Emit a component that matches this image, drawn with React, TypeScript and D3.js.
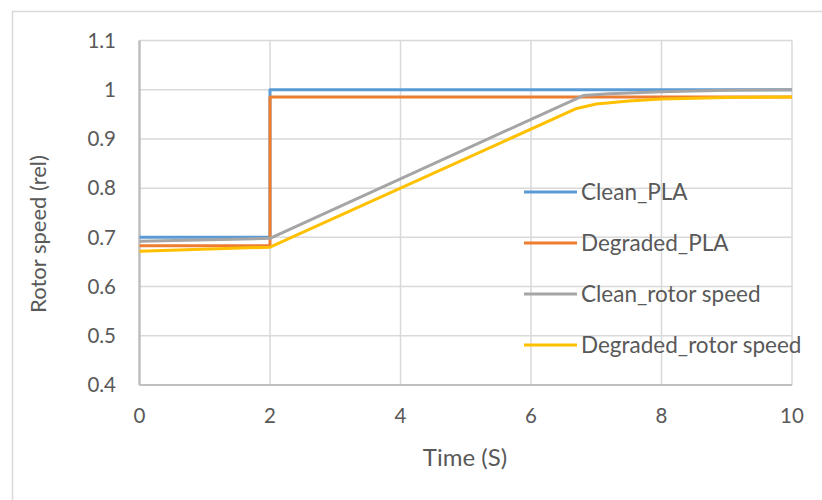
import React from "react";
import * as d3 from "d3";

const seriesNames = ["Clean_PLA", "Degraded_PLA", "Clean_rotor speed", "Degraded_rotor speed"];
const seriesColors = ["#5b9bd5", "#ed7d31", "#a5a5a5", "#ffc000"];

const cleanPLA_t = [0, 2, 2, 10];
const cleanPLA_v = [0.7, 0.7, 1.0, 1.0];
const degradedPLA_t = [0, 2, 2, 10];
const degradedPLA_v = [0.683, 0.683, 0.985, 0.985];
const cleanRotor_t = [0, 2, 6.8, 7.2, 8, 9, 10];
const cleanRotor_v = [0.692, 0.698, 0.988, 0.992, 0.996, 0.999, 1.0];
const degradedRotor_t = [0, 2, 6.7, 7, 7.5, 8, 9, 10];
const degradedRotor_v = [0.672, 0.68, 0.962, 0.971, 0.977, 0.981, 0.984, 0.985];

const xTicks = [0, 2, 4, 6, 8, 10];
const yTicks = [0.4, 0.5, 0.6, 0.7, 0.8, 0.9, 1, 1.1];

const W = 822;
const H = 500;
const FONT = "Lato, 'Open Sans', sans-serif";

export default function App() {
  const x = d3.scaleLinear().domain([0, 10]).range([139.5, 792]);
  const y = d3.scaleLinear().domain([0.4, 1.1]).range([385, 40.5]);
  const line = d3
    .line<[number, number]>()
    .x((d) => x(d[0]))
    .y((d) => y(d[1]));

  const series: [number[], number[]][] = [
    [cleanPLA_t, cleanPLA_v],
    [degradedPLA_t, degradedPLA_v],
    [cleanRotor_t, cleanRotor_v],
    [degradedRotor_t, degradedRotor_v],
  ];

  const legendY0 = 192;
  const legendStep = 51;

  return (
    <svg
      width={W}
      height={H}
      style={{ position: "absolute", left: 0, top: 0, background: "#fff" }}
      fontFamily={FONT}
    >
      <rect x={0} y={0} width={W} height={H} fill="#fff" />
      <rect x={12.5} y={11.5} width={W + 20} height={H + 20} fill="none" stroke="#d9d9d9" strokeWidth={1.5} />
      {/* gridlines */}
      {yTicks.map((t) => (
        <line key={"gy" + t} x1={x(0)} x2={x(10)} y1={y(t)} y2={y(t)} stroke="#d9d9d9" strokeWidth={1.5} />
      ))}
      {xTicks.map((t) => (
        <line key={"gx" + t} x1={x(t)} x2={x(t)} y1={y(0.4)} y2={y(1.1)} stroke="#d9d9d9" strokeWidth={1.5} />
      ))}
      {/* axes */}
      <line x1={x(0)} x2={x(0)} y1={y(0.4)} y2={y(1.1)} stroke="#bfbfbf" strokeWidth={2.5} />
      <line x1={x(0)} x2={x(10)} y1={y(0.4)} y2={y(0.4)} stroke="#bfbfbf" strokeWidth={2} />
      {/* tick labels */}
      {yTicks.map((t) => (
        <text key={"ty" + t} x={116} y={y(t)} dy="0.35em" textAnchor="end" fontSize={20.5} fill="#595959">
          {d3.format("~g")(t)}
        </text>
      ))}
      {xTicks.map((t) => (
        <text key={"tx" + t} x={x(t)} y={416} dy="0.35em" textAnchor="middle" fontSize={20.5} fill="#595959">
          {t}
        </text>
      ))}
      {/* axis titles */}
      <text x={465} y={458} dy="0.35em" textAnchor="middle" fontSize={24} fill="#595959">
        Time (S)
      </text>
      <text
        transform={`translate(38,${234}) rotate(-90)`}
        dy="0.35em"
        textAnchor="middle"
        fontSize={22}
        fill="#595959"
      >
        Rotor speed (rel)
      </text>
      {/* series */}
      {series.map(([ts, vs], i) => (
        <path
          key={"s" + i}
          d={line(ts.map((t, j) => [t, vs[j]] as [number, number])) || ""}
          fill="none"
          stroke={seriesColors[i]}
          strokeWidth={3}
          strokeLinejoin="round"
        />
      ))}
      {/* legend */}
      {seriesNames.map((n, i) => (
        <g key={"l" + i}>
          <line
            x1={524}
            x2={577}
            y1={legendY0 + i * legendStep}
            y2={legendY0 + i * legendStep}
            stroke={seriesColors[i]}
            strokeWidth={3}
          />
          <text x={581} y={legendY0 + i * legendStep} dy="0.35em" fontSize={22.5} fill="#595959">
            {n}
          </text>
        </g>
      ))}
    </svg>
  );
}
